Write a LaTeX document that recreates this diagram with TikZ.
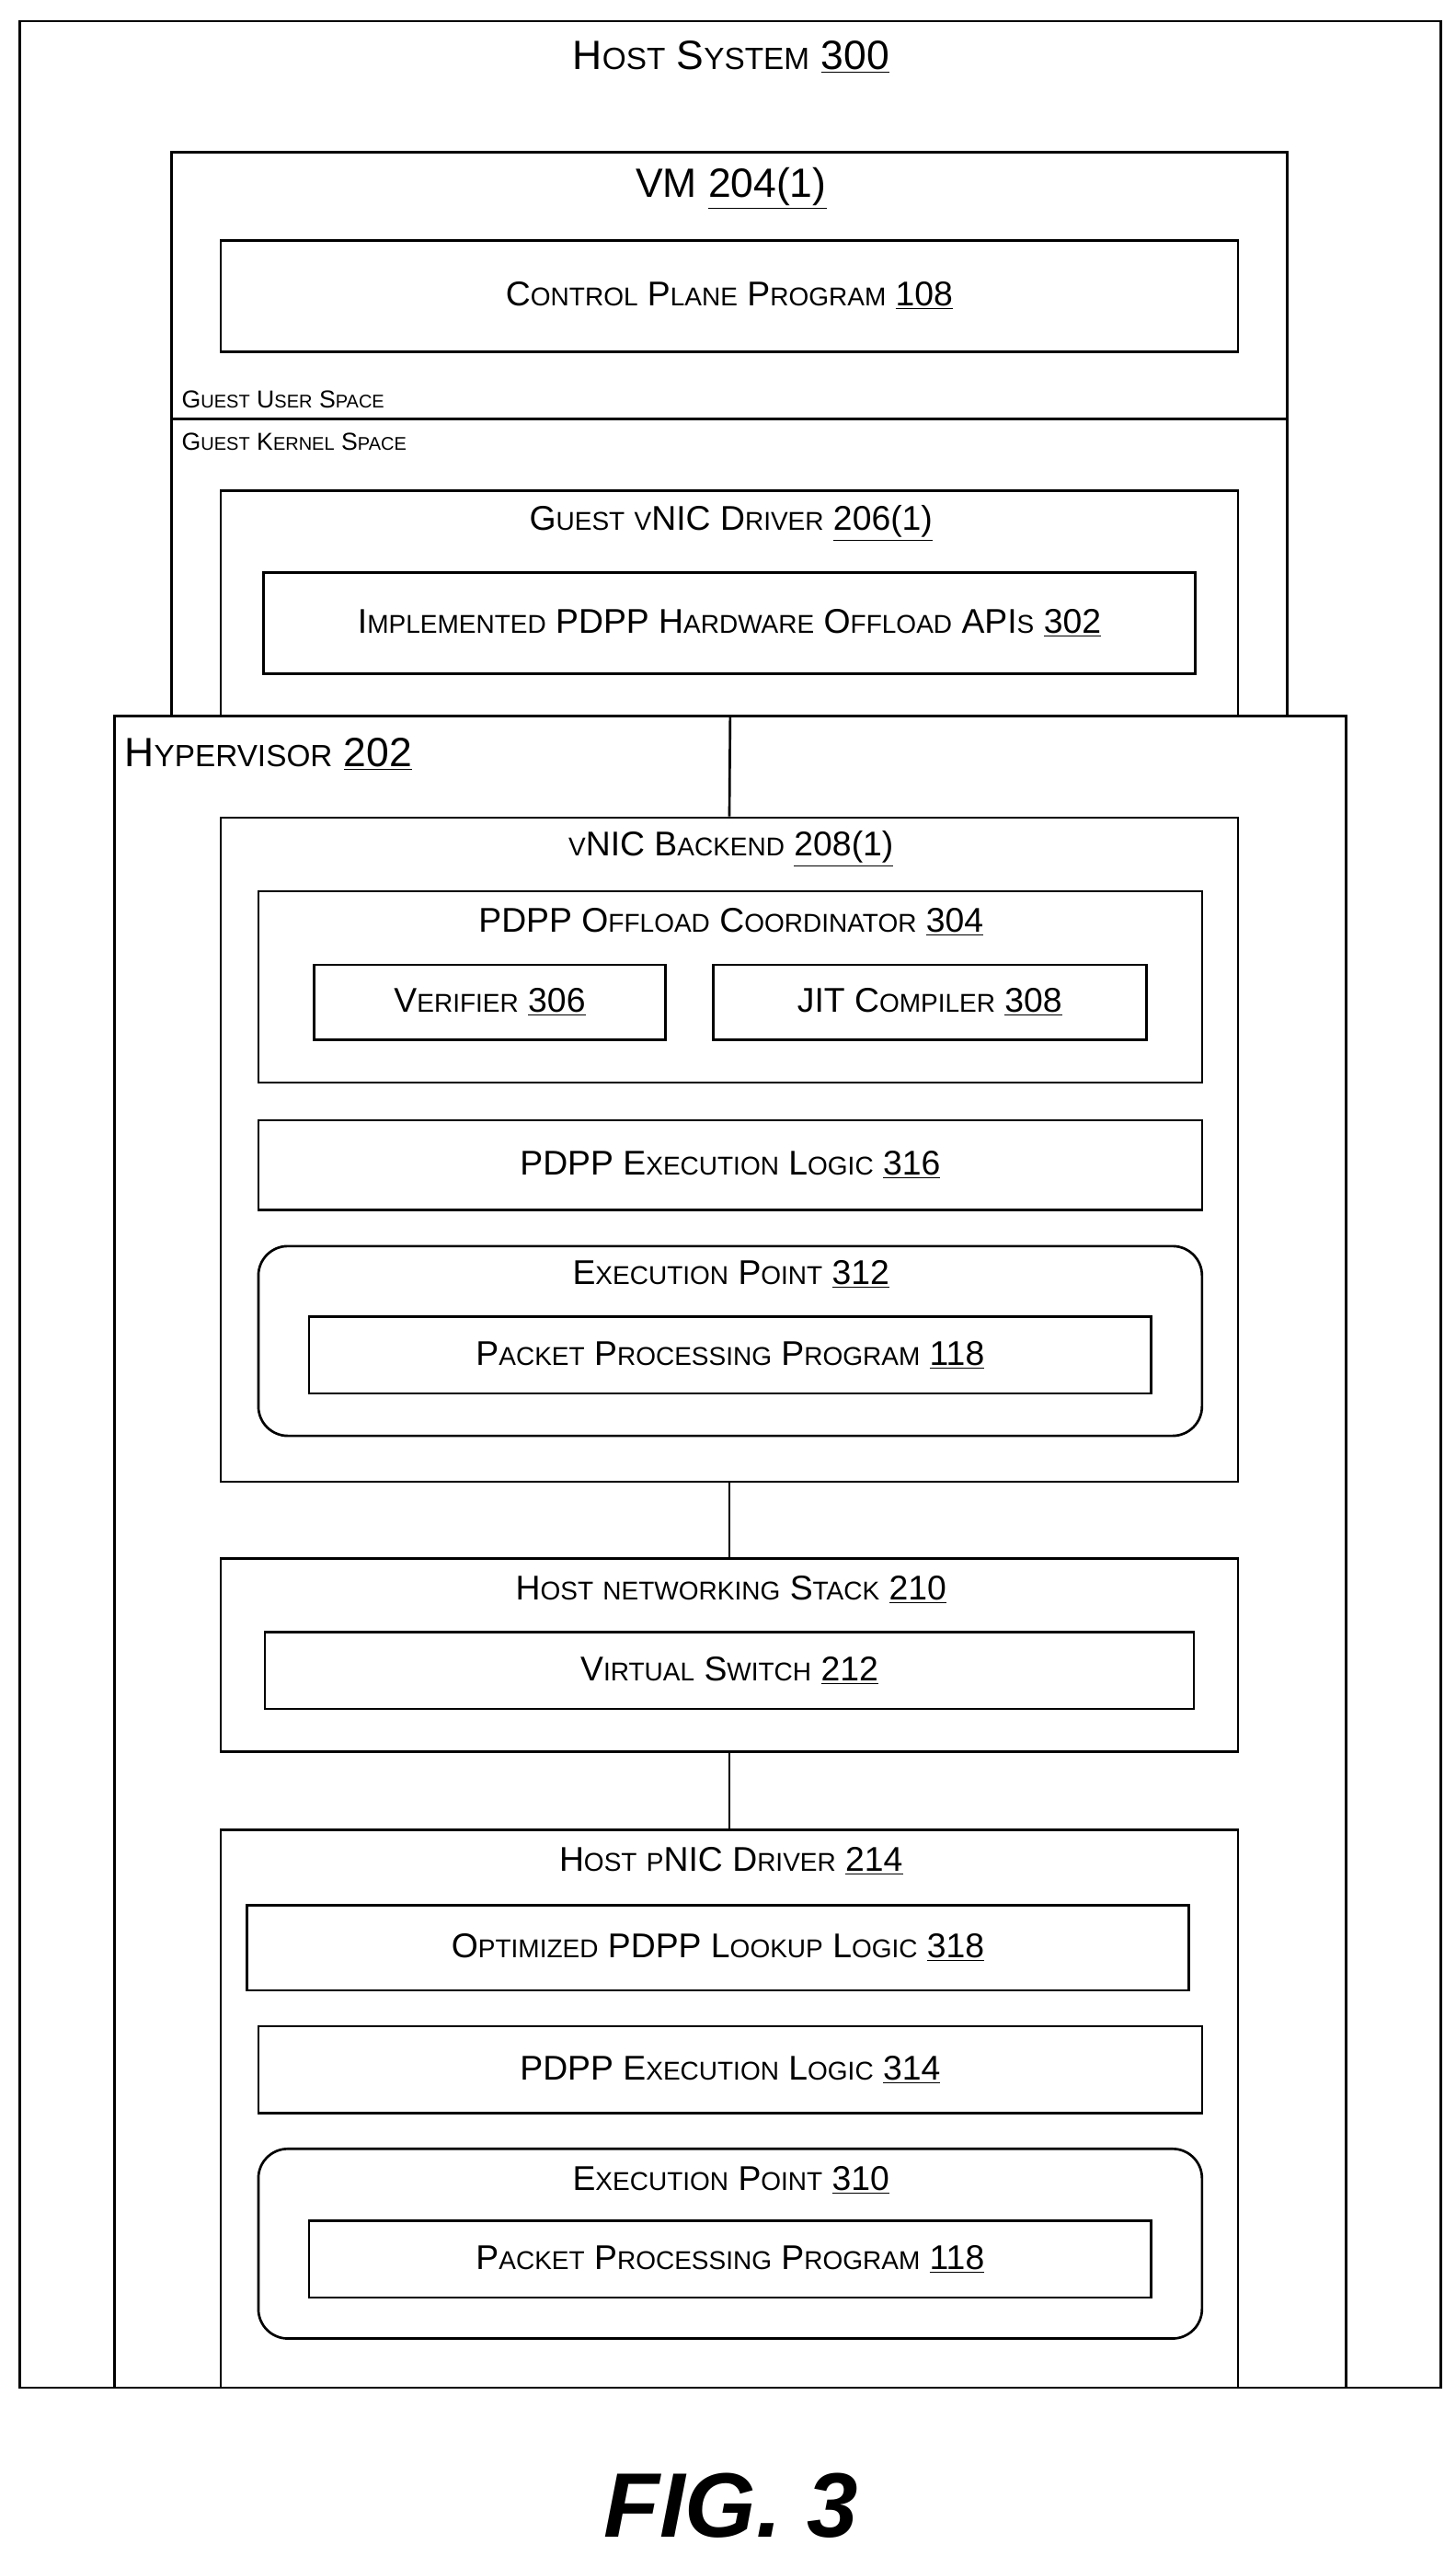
\documentclass[tikz,border=0pt]{standalone}
\usepackage{fontspec}
\setmainfont{Liberation Sans}
\usetikzlibrary{fit,positioning}

% fake small caps: big first letters given plainly, rest through \s
\newcommand{\s}[1]{{\fontsize{0.75\fsz}{0.75\fsz}\selectfont\MakeUppercase{#1}}}
\newlength{\fsz}
\newcommand{\sz}[1]{\setlength{\fsz}{#1}\fontsize{\fsz}{1.2\fsz}\selectfont}
\newcommand{\num}[1]{\underline{#1}}

\tikzset{
  box/.style={draw, line width=1.5pt, fill=white, inner sep=0pt},
  rbox/.style={box, rounded corners=18pt},
  lbl/.style={inner sep=0pt, font=\sz{21pt}},
  big/.style={inner sep=0pt, font=\sz{25pt}},
  tiny lbl/.style={inner sep=0pt, anchor=west, font=\sz{15pt}},
  wire/.style={line width=1.5pt}
}

\begin{document}
\begin{tikzpicture}[x=1pt,y=-1pt]
\useasboundingbox (0,0) rectangle (890,1563);

%% host and vm
\node[box, fit={(12,13)(881,1460)}] (host) {};
\node[big] (hostl) at (447,35) {H\s{ost} S\s{ystem} \num{300}};
\node[box, fit={(105,93)(787,438)}] (vm) {};
\node[big] (vml) at (447,115) {VM \num{204(1)}};
\node[box, fit={(135,147)(757,215)}] (cp) {};
\node[lbl] at (cp) {C\s{ontrol} P\s{lane} P\s{rogram} \num{108}};
\draw[wire] (vm.west |- 0,256) -- (vm.east |- 0,256);
\node[tiny lbl] (us) at (111,244) {G\s{uest} U\s{ser} S\s{pace}};
\node[tiny lbl] (ks) at (111,270) {G\s{uest} K\s{ernel} S\s{pace}};
\node[box, fit={(135,300)(757,438)}] (gvnic) {};
\node[lbl] at (447,320) {G\s{uest} \s{v}NIC D\s{river} \num{206(1)}};
\node[box, fit={(161,350)(731,412)}] (api) {};
\node[lbl] at (api) {I\s{mplemented} PDPP H\s{ardware} O\s{ffload} API\s{s} \num{302}};

%% hypervisor
\node[box, fit={(70,438)(823,1460)}] (hv) {};
\node[big, anchor=west] (hvl) at (76,461) {H\s{ypervisor} \num{202}};

% vnic backend
\node[box, fit={(135,500)(757,906)}] (be) {};
\node[lbl] at (447,519) {\s{v}NIC B\s{ackend} \num{208(1)}};
\node[box, fit={(158,545)(735,662)}] (coord) {};
\node[lbl] at (447,564) {PDPP O\s{ffload} C\s{oordinator} \num{304}};
\node[box, fit={(192,590)(407,636)}] (ver) {};
\node[lbl] at (ver) {V\s{erifier} \num{306}};
\node[box, fit={(436,590)(701,636)}] (jit) {};
\node[lbl] at (jit) {JIT C\s{ompiler} \num{308}};
\node[box, fit={(158,685)(735,740)}] (exa) {};
\node[lbl] at (exa) {PDPP E\s{xecution} L\s{ogic} \num{316}};
\node[rbox, fit={(158,762)(735,878)}] (epa) {};
\node[lbl] at (447,779) {E\s{xecution} P\s{oint} \num{312}};
\node[box, fit={(189,805)(704,852)}] (ppa) {};
\node[lbl] at (ppa) {P\s{acket} P\s{rocessing} P\s{rogram} \num{118}};

% networking stack
\node[box, fit={(135,953)(757,1071)}] (hns) {};
\node[lbl] at (447,972) {H\s{ost} \s{networking} S\s{tack} \num{210}};
\node[box, fit={(162,998)(730,1045)}] (vsw) {};
\node[lbl] at (vsw) {V\s{irtual} S\s{witch} \num{212}};

% pnic driver
\node[box, fit={(135,1119)(757,1460)}] (pnic) {};
\node[lbl] at (447,1138) {H\s{ost} \s{p}NIC D\s{river} \num{214}};
\node[box, fit={(151,1165)(727,1217)}] (opt) {};
\node[lbl] at (opt) {O\s{ptimized} PDPP L\s{ookup} L\s{ogic} \num{318}};
\node[box, fit={(158,1239)(735,1292)}] (exb) {};
\node[lbl] at (exb) {PDPP E\s{xecution} L\s{ogic} \num{314}};
\node[rbox, fit={(158,1314)(735,1430)}] (epb) {};
\node[lbl] at (447,1333) {E\s{xecution} P\s{oint} \num{310}};
\node[box, fit={(189,1358)(704,1405)}] (ppb) {};
\node[lbl] at (ppb) {P\s{acket} P\s{rocessing} P\s{rogram} \num{118}};

%% wires
\draw[wire] (hv.north) -- (be.north);
\draw[wire] (be.south) -- (hns.north);
\draw[wire] (hns.south) -- (pnic.north);

\node[inner sep=0pt, font=\fontsize{56pt}{60pt}\selectfont\bfseries\itshape] (fig) at (447,1532) {FIG. 3};
\end{tikzpicture}
\end{document}
